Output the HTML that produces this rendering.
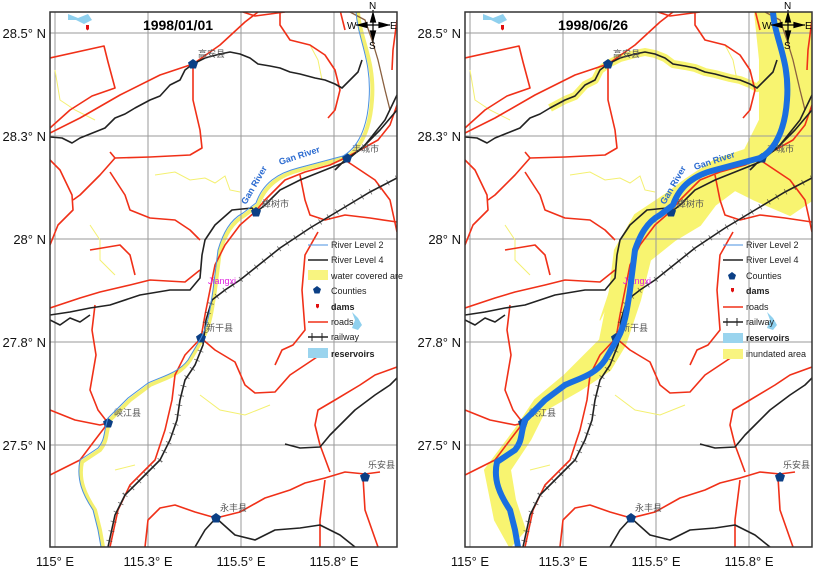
<!DOCTYPE html>
<html><head><meta charset="utf-8"><style>
html,body{margin:0;padding:0;background:#fff;}
svg{display:block;font-family:"Liberation Sans","Noto Sans CJK SC",sans-serif;}
</style></head><body>
<svg width="818" height="578" viewBox="0 0 818 578" xmlns="http://www.w3.org/2000/svg">
<defs>
<clipPath id="cl"><rect x="50" y="12" width="347" height="535"/></clipPath>
<g id="compass">
  <g stroke="#000" stroke-width="1.2" fill="#000">
    <line x1="373" y1="10" x2="373" y2="42"/><line x1="356" y1="25" x2="390" y2="25"/>
    <path d="M373,13 l2.5,9 l-5,0 Z"/><path d="M388,25 l-9,2.5 l0,-5 Z"/><path d="M358,25 l9,2.5 l0,-5 Z"/><path d="M373,40 l2.5,-9 l-5,0 Z"/>
  </g>
  <g font-size="10" fill="#000">
    <text x="369" y="9">N</text><text x="347" y="29">W</text><text x="390" y="29">E</text><text x="369" y="49">S</text>
  </g>
</g>
<g id="base">
  <g stroke="#9a9a9a" stroke-width="1">
    <line x1="55" y1="12" x2="55" y2="547"/><line x1="148" y1="12" x2="148" y2="547"/>
    <line x1="241" y1="12" x2="241" y2="547"/><line x1="334" y1="12" x2="334" y2="547"/>
    <line x1="50" y1="33" x2="397" y2="33"/><line x1="50" y1="136" x2="397" y2="136"/>
    <line x1="50" y1="239" x2="397" y2="239"/><line x1="50" y1="342" x2="397" y2="342"/>
    <line x1="50" y1="445" x2="397" y2="445"/>
  </g>
  <g fill="none" stroke="#f4f070" stroke-width="1">
    <path d="M155,175 L175,172 L190,180 L205,178 L215,183 L225,176 L230,190 L240,192"/>
    <path d="M55,70 L60,100 L75,110 L95,120"/>
    <path d="M90,225 L100,240 L100,260 L115,275"/>
    <path d="M200,395 L220,410 L245,415 L270,405"/>
    <path d="M310,45 L318,60 L322,80"/>
    <path d="M115,470 L135,465"/>
  </g>
  <g fill="none" stroke="#f03018" stroke-width="1.6" stroke-linejoin="round">
    <path d="M50,133 L80,118 L120,95 L160,75 L193,64 L220,45 L245,22 L258,12"/>
    <path d="M50,58 L104,46 L108,62 L115,88 L92,96 L70,110 L50,128"/>
    <path d="M193,64 L193,100 L200,130 L202,148 L190,155 L150,157 L115,158 L110,152"/>
    <path d="M50,160 L60,170 L72,195 L73,210 L58,225 L50,245"/>
    <path d="M115,158 L100,175 L80,195 L73,200"/>
    <path d="M110,172 L125,195 L130,210 L150,218 L175,220 L190,230 L200,240"/>
    <path d="M243,12 L255,16 L270,14 L285,12"/>
    <path d="M280,12 L280,25 L290,40 L310,45 L325,55 L335,70 L340,90 L335,110 L328,118"/>
    <path d="M397,105 L390,125 L378,140 L360,150 L345,158 L330,165 L305,172 L285,180 L265,200 L255,212 L240,225 L225,245 L215,265 L210,290 L205,315 L201,338 L185,355 L175,375 L172,400 L165,430 L155,460 L130,485 L118,510 L110,547"/>
    <path d="M201,338 L215,350 L235,362 L245,385 L255,393 L275,392 L290,375 L305,365 L320,355"/>
    <path d="M300,175 L305,200 L310,215 L325,220 L345,215 L370,218 L397,222"/>
    <path d="M345,160 L375,180 L390,200 L397,232"/>
    <path d="M50,410 L75,420 L100,425 L108,423"/>
    <path d="M108,423 L95,440 L80,460 L60,470 L50,475"/>
    <path d="M95,305 L92,330 L96,355 L90,390 L98,410 L108,423"/>
    <path d="M145,547 L148,520 L160,508 L175,505 L195,512 L216,518 L240,512 L265,498 L290,490 L305,483 L325,478 L345,472 L365,474 L380,472"/>
    <path d="M320,547 L320,520 L325,480"/>
    <path d="M363,477 L365,510 L378,547"/>
    <path d="M330,472 L320,445 L315,425 L318,410 L335,400 L360,385 L375,375 L397,367"/>
    <path d="M50,308 L80,298 L100,292 L130,285 L150,280 L185,282 L200,270"/>
    <path d="M90,250 L120,245 L130,255 L135,275"/>
    <path d="M318,232 L305,255 L302,290 L305,330 L293,345 L282,350 L275,365"/>
    <path d="M397,20 L393,50 L392,70"/>
    <path d="M340,10 L345,30"/>
  </g>
  <path d="M350,12 L365,20 L372,40 L378,60 L385,90 L390,110" fill="none" stroke="#8a6040" stroke-width="1.3"/>
  <g fill="none" stroke="#222" stroke-width="1.6" stroke-linejoin="round">
    <path d="M50,137 L62,138 L72,143 L80,138 L95,132 L105,128 L115,118 L125,114 L135,108 L150,100 L160,96 L170,85 L180,80 L185,70 L193,64 L205,58 L220,54 L230,52 L240,54 L250,58 L258,64 L270,66 L280,68 L290,72 L300,74 L315,78 L325,80 L335,84 L342,88 L350,80 L358,72 L362,60"/>
    <path d="M50,315 L70,312 L90,308 L110,305 L140,295 L170,290 L190,290 L200,278 L202,255 L205,240 L215,225 L232,210 L252,208 L258,215"/>
    <path d="M50,320 L60,325 L70,318 L80,322 L90,315"/>
    <path d="M216,518 L235,535 L255,540 L275,530 L300,528 L320,525 L340,535 L355,547"/>
    <path d="M216,518 L205,530 L195,547"/>
    <path d="M285,444 L300,448 L320,447 L330,435 L340,425 L355,410 L375,395 L390,385 L397,378"/>
    <path d="M335,170 L345,160 L360,150 L380,130 L397,110"/>
  </g>
  <g fill="none" stroke="#222" stroke-width="1.6">
    <path d="M397,178 L370,192 L340,210 L310,228 L280,248 L255,268 L240,280 L225,290 L212,300 L206,320 L203,345 L195,365 L185,380 L180,400 L177,420 L170,440 L160,460 L140,480 L125,495 L115,515 L108,547"/>
    <path d="M397,95 L385,120 L365,145 L345,162 L320,172 L300,180 L280,190 L265,205 L255,213"/>
  </g>
  <path d="M397,178 L370,192 L340,210 L310,228 L280,248 L255,268 L240,280 L225,290 L212,300 L206,320 L203,345 L195,365 L185,380 L180,400 L177,420 L170,440 L160,460 L140,480 L125,495 L115,515 L108,547" fill="none" stroke="#333" stroke-width="6" stroke-dasharray="0.8 9" opacity="0.7"/>
  <path d="M68,14 L78,18 L88,14 L92,20 L84,24 L76,20 L68,20 Z" fill="#8fd0ee"/>
  <path d="M352,312 L358,318 L362,325 L358,330 L352,328 L355,320 Z" fill="#8fd0ee"/>
  <path d="M86,25 l3,0 l0,4 l-1.5,1.5 l-1.5,-1.5 Z" fill="#e01010"/>
  <g fill="#0b3f85">
    <path d="M193,59 l5,3.5 l-2,6 l-6,0 l-2,-6 Z"/>
    <path d="M347,153 l5,3.5 l-2,6 l-6,0 l-2,-6 Z"/>
    <path d="M256,207 l5,3.5 l-2,6 l-6,0 l-2,-6 Z"/>
    <path d="M201,333 l5,3.5 l-2,6 l-6,0 l-2,-6 Z"/>
    <path d="M108,418 l5,3.5 l-2,6 l-6,0 l-2,-6 Z"/>
    <path d="M216,513 l5,3.5 l-2,6 l-6,0 l-2,-6 Z"/>
    <path d="M365,472 l5,3.5 l-2,6 l-6,0 l-2,-6 Z"/>
  </g>
  <g font-size="9" fill="#555">
    <text x="198" y="57">高安县</text>
    <text x="352" y="152">丰城市</text>
    <text x="262" y="207">樟树市</text>
    <text x="206" y="331">新干县</text>
    <text x="114" y="416">峡江县</text>
    <text x="220" y="511">永丰县</text>
    <text x="368" y="468">乐安县</text>
  </g>
  <text x="208" y="284" font-size="9" fill="#e020e0">Jiangxi</text>
</g>
</defs>

<!-- LEFT PANEL -->
<g clip-path="url(#cl)">
  <path d="M358,12 C360,40 375,60 372,100 C370,130 360,150 345,158 L300,170 C280,175 265,185 258,205 L245,215 C232,222 225,235 220,250 L215,290 C212,310 210,325 203,338 L190,360 C180,375 165,378 150,385 L130,400 L110,420 C105,435 108,440 100,450 L82,462 C78,480 85,495 95,510 L100,530 L103,547" fill="none" stroke="#f4f070" stroke-width="4"/>
  <use href="#base"/>
  <path d="M356,12 C358,40 372,60 369,100 C367,130 357,148 343,156 L298,168 C278,173 263,183 256,203 L243,213 C230,220 223,233 218,250 L213,290 C210,310 208,325 201,338 L188,360 C178,373 163,376 148,383 L128,398 L108,418 C103,433 106,438 98,448 L80,460 C76,480 83,495 93,510 L98,530 L101,547" fill="none" stroke="#4a90e0" stroke-width="1"/>
</g>
<use href="#compass"/>
<rect x="50" y="12" width="347" height="535" fill="none" stroke="#333" stroke-width="1.5"/>
<text x="178" y="30" font-size="14" font-weight="bold" text-anchor="middle">1998/01/01</text>
<g font-size="9" fill="#2a6ad0" font-weight="bold">
  <text transform="translate(280,165) rotate(-18)">Gan River</text>
  <text transform="translate(246,205) rotate(-60)">Gan River</text>
</g>
<g font-size="9" fill="#222">
  <line x1="308" y1="245" x2="328" y2="245" stroke="#4a90e0"/><text x="331" y="248">River Level 2</text>
  <line x1="308" y1="260" x2="328" y2="260" stroke="#222" stroke-width="1.5"/><text x="331" y="263">River Level 4</text>
  <rect x="308" y="270" width="20" height="10" fill="#f8f480"/><text x="331" y="279">water covered are</text>
  <path d="M317,286 l4,3 l-1.5,4.5 l-5,0 l-1.5,-4.5 Z" fill="#0b3f85"/><text x="331" y="294">Counties</text>
  <path d="M316,304 l3,0 l0,3 l-1.5,1.5 l-1.5,-1.5 Z" fill="#e01010"/><text x="331" y="310" font-weight="bold">dams</text>
  <line x1="308" y1="322" x2="328" y2="322" stroke="#f03018" stroke-width="1.5"/><text x="331" y="325">roads</text>
  <line x1="308" y1="337" x2="328" y2="337" stroke="#222" stroke-width="1.5"/><line x1="312" y1="333" x2="312" y2="341" stroke="#222"/><line x1="322" y1="333" x2="322" y2="341" stroke="#222"/><text x="331" y="340">railway</text>
  <rect x="308" y="348" width="20" height="10" fill="#9ad4ee"/><text x="331" y="357" font-weight="bold">reservoirs</text>
</g>
<g font-size="13" fill="#111" text-anchor="end">
  <text x="46" y="38">28.5° N</text><text x="46" y="141">28.3° N</text><text x="46" y="244">28° N</text>
  <text x="46" y="347">27.8° N</text><text x="46" y="450">27.5° N</text>
</g>
<g font-size="13" fill="#111" text-anchor="middle">
  <text x="55" y="566">115° E</text><text x="148" y="566">115.3° E</text><text x="241" y="566">115.5° E</text><text x="334" y="566">115.8° E</text>
</g>

<!-- RIGHT PANEL -->
<g transform="translate(415,0)">
  <g clip-path="url(#cl)">
    <g fill="#f8f470" stroke="#f8f470" stroke-linejoin="round">
      <path d="M340,12 L397,12 L397,200 L375,215 L340,200 L320,190 L300,205 L285,225 L260,240 L235,260 L225,300 L210,345 L195,370 L165,390 L130,410 L115,440 L95,470 L100,500 L110,530 L95,547 L80,520 L70,470 L85,450 L100,430 L120,400 L150,375 L185,340 L195,290 L200,250 L220,215 L250,195 L270,180 L300,160 L330,150 L345,120 L345,60 Z" stroke-width="2"/>
      <path d="M195,290 L205,270 L205,250 L195,300 L185,320 Z"/>
    </g>
    <path d="M135,108 L150,100 L160,96 L170,85 L180,80 L185,70 L193,64 L205,58 L220,54 L230,52 L240,54 L250,58 L258,64 L270,66 L280,68 L290,72 L300,74 L315,78 L325,80 L335,84 L342,88 L350,80 L358,72" fill="none" stroke="#f8f470" stroke-width="8" stroke-linejoin="round"/>
    <use href="#base"/>
    <path d="M358,12 C360,40 375,60 372,100 C370,130 360,150 345,158 L300,170 C280,175 265,185 258,205 L245,215 C232,222 225,235 220,250 L215,290 C212,310 210,325 203,338 L190,360 C180,375 165,378 150,385 L130,400 L110,420 C105,435 108,440 100,450 L82,462 C78,480 85,495 95,510 L100,530 L103,547" fill="none" stroke="#1a6fe0" stroke-width="6" stroke-linejoin="round"/>
  </g>
  <use href="#compass"/>
  <rect x="50" y="12" width="347" height="535" fill="none" stroke="#333" stroke-width="1.5"/>
  <text x="178" y="30" font-size="14" font-weight="bold" text-anchor="middle">1998/06/26</text>
  <g font-size="9" fill="#2a6ad0" font-weight="bold">
    <text transform="translate(280,170) rotate(-18)">Gan River</text>
    <text transform="translate(250,205) rotate(-60)">Gan River</text>
  </g>
  <g font-size="9" fill="#222">
    <line x1="308" y1="245" x2="328" y2="245" stroke="#4a90e0"/><text x="331" y="248">River Level 2</text>
    <line x1="308" y1="260" x2="328" y2="260" stroke="#222" stroke-width="1.5"/><text x="331" y="263">River Level 4</text>
    <path d="M317,272 l4,3 l-1.5,4.5 l-5,0 l-1.5,-4.5 Z" fill="#0b3f85"/><text x="331" y="279">Counties</text>
    <path d="M316,288 l3,0 l0,3 l-1.5,1.5 l-1.5,-1.5 Z" fill="#e01010"/><text x="331" y="294" font-weight="bold">dams</text>
    <line x1="308" y1="307" x2="328" y2="307" stroke="#f03018" stroke-width="1.5"/><text x="331" y="310">roads</text>
    <line x1="308" y1="322" x2="328" y2="322" stroke="#222" stroke-width="1.5"/><line x1="312" y1="318" x2="312" y2="326" stroke="#222"/><line x1="322" y1="318" x2="322" y2="326" stroke="#222"/><text x="331" y="325">railway</text>
    <rect x="308" y="333" width="20" height="10" fill="#9ad4ee"/><text x="331" y="341" font-weight="bold">reservoirs</text>
    <rect x="308" y="349" width="20" height="10" fill="#f8f480"/><text x="331" y="357">inundated area</text>
  </g>
  <g font-size="13" fill="#111" text-anchor="end">
    <text x="46" y="38">28.5° N</text><text x="46" y="141">28.3° N</text><text x="46" y="244">28° N</text>
    <text x="46" y="347">27.8° N</text><text x="46" y="450">27.5° N</text>
  </g>
  <g font-size="13" fill="#111" text-anchor="middle">
    <text x="55" y="566">115° E</text><text x="148" y="566">115.3° E</text><text x="241" y="566">115.5° E</text><text x="334" y="566">115.8° E</text>
  </g>
</g>
</svg>
</body></html>
